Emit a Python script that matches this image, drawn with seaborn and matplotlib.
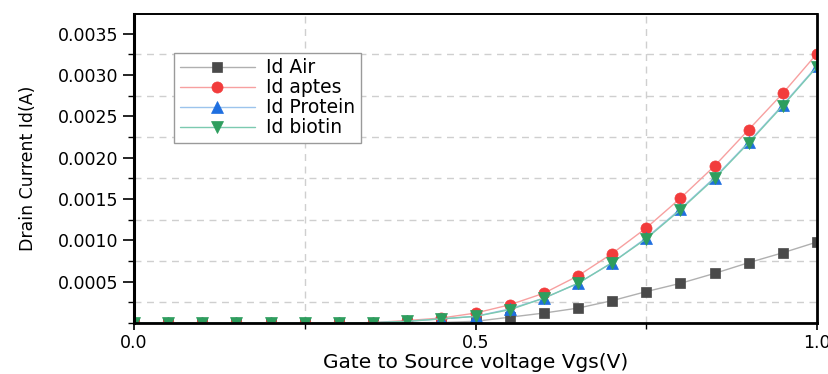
import numpy as np
import pandas as pd
import matplotlib
matplotlib.use("Agg")
import matplotlib.pyplot as plt
from matplotlib.ticker import MultipleLocator, FormatStrFormatter
import seaborn as sns

vgs = [0.0, 0.05, 0.10, 0.15, 0.20, 0.25, 0.30, 0.35, 0.40, 0.45, 0.50,
       0.55, 0.60, 0.65, 0.70, 0.75, 0.80, 0.85, 0.90, 0.95, 1.00]
id_air = [0, 0, 0, 0, 0, 0, 0, 0, 0.000002, 0.000006, 0.00002,
          0.00007, 0.00012, 0.00018, 0.00027, 0.00038, 0.00048, 0.00060, 0.00073, 0.00085, 0.00098]
id_aptes = [0, 0, 0, 0, 0, 0, 0, 0.000005, 0.00003, 0.00006, 0.00012,
            0.00022, 0.00036, 0.00057, 0.00084, 0.00115, 0.00151, 0.00190, 0.00234, 0.00278, 0.00326]
id_protein = [0, 0, 0, 0, 0, 0, 0, 0.000004, 0.00002, 0.00005, 0.00008,
              0.00017, 0.00030, 0.00048, 0.00073, 0.00103, 0.00138, 0.00176, 0.00219, 0.00264, 0.00311]
id_biotin = [0, 0, 0, 0, 0, 0, 0, 0.000004, 0.00002, 0.00005, 0.00008,
             0.00016, 0.00030, 0.00048, 0.00073, 0.00102, 0.00137, 0.00175, 0.00218, 0.00263, 0.00310]
labels = ["Id Air", "Id aptes", "Id Protein", "Id biotin"]

sns.set_theme(style="ticks")
plt.rcParams['font.family'] = ['DejaVu Sans']
plt.rcParams['text.color'] = 'black'
plt.rcParams['axes.labelcolor'] = 'black'
plt.rcParams['xtick.color'] = 'black'
plt.rcParams['ytick.color'] = 'black'

df = pd.DataFrame({"Vgs": vgs, labels[0]: id_air, labels[1]: id_aptes,
                   labels[2]: id_protein, labels[3]: id_biotin})

fig = plt.figure(figsize=(8.29, 3.74), dpi=100)
ax = fig.add_axes([0.1617, 0.1364, 0.8238, 0.8262])

styles = [
    dict(line="#b0b0b0", mfc="#4a4a4a", marker="s", ms=7),
    dict(line="#f7a0a0", mfc="#f23c3c", marker="o", ms=8),
    dict(line="#9cc4ec", mfc="#1f6fe0", marker="^", ms=8),
    dict(line="#7ccab0", mfc="#2e9e5e", marker="v", ms=8),
]
for lab, st in zip(labels, styles):
    sns.lineplot(data=df, x="Vgs", y=lab, ax=ax, color=st["line"], lw=1.0,
                 marker=st["marker"], markersize=st["ms"],
                 markerfacecolor=st["mfc"], markeredgecolor=st["mfc"],
                 markeredgewidth=0.5, label=lab, clip_on=True, zorder=3)

ax.set_xlim(0, 1.0)
ax.set_ylim(0, 0.00374)
ax.xaxis.set_major_locator(MultipleLocator(0.5))
ax.xaxis.set_minor_locator(MultipleLocator(0.25))
ax.yaxis.set_major_locator(MultipleLocator(0.0005))
ax.yaxis.set_minor_locator(MultipleLocator(0.00025))
ax.xaxis.set_major_formatter(FormatStrFormatter("%.1f"))
ax.yaxis.set_major_formatter(FormatStrFormatter("%.4f"))
ax.set_yticks([0.0005, 0.0010, 0.0015, 0.0020, 0.0025, 0.0030, 0.0035])

ax.grid(False)
ax.grid(which="minor", axis="both", color="#cfcfcf", linestyle=(0, (5, 4)), lw=1.0)

for side in ["left", "bottom", "right", "top"]:
    ax.spines[side].set_visible(True)
    ax.spines[side].set_color("black")
    ax.spines[side].set_zorder(5)
ax.spines["left"].set_linewidth(2.2)
ax.spines["bottom"].set_linewidth(2.0)
ax.spines["right"].set_linewidth(2.0)
ax.spines["top"].set_linewidth(1.4)

ax.tick_params(axis="both", which="major", direction="out", length=8, width=1.2,
               labelsize=12.5, colors="black", pad=3)
ax.tick_params(axis="both", which="minor", direction="out", length=4, width=1.0)
ax.tick_params(axis="x", which="major", length=5)

ax.set_xlabel("Gate to Source voltage Vgs(V)", fontsize=14.5, labelpad=1)
ax.set_ylabel("Drain Current Id(A)", fontsize=12.5,
              family=["DejaVu Sans Condensed", "Liberation Sans Narrow", "DejaVu Sans"],
              labelpad=15)

leg = ax.legend(loc="upper left", bbox_to_anchor=(0.045, 0.905), fontsize=13.5,
                frameon=True, fancybox=False, edgecolor="#9a9a9a", framealpha=1,
                handlelength=4.0, labelspacing=0.05, borderpad=0.3,
                handletextpad=0.6)
leg.get_frame().set_linewidth(1.0)

fig.savefig("out.png", dpi=100)
